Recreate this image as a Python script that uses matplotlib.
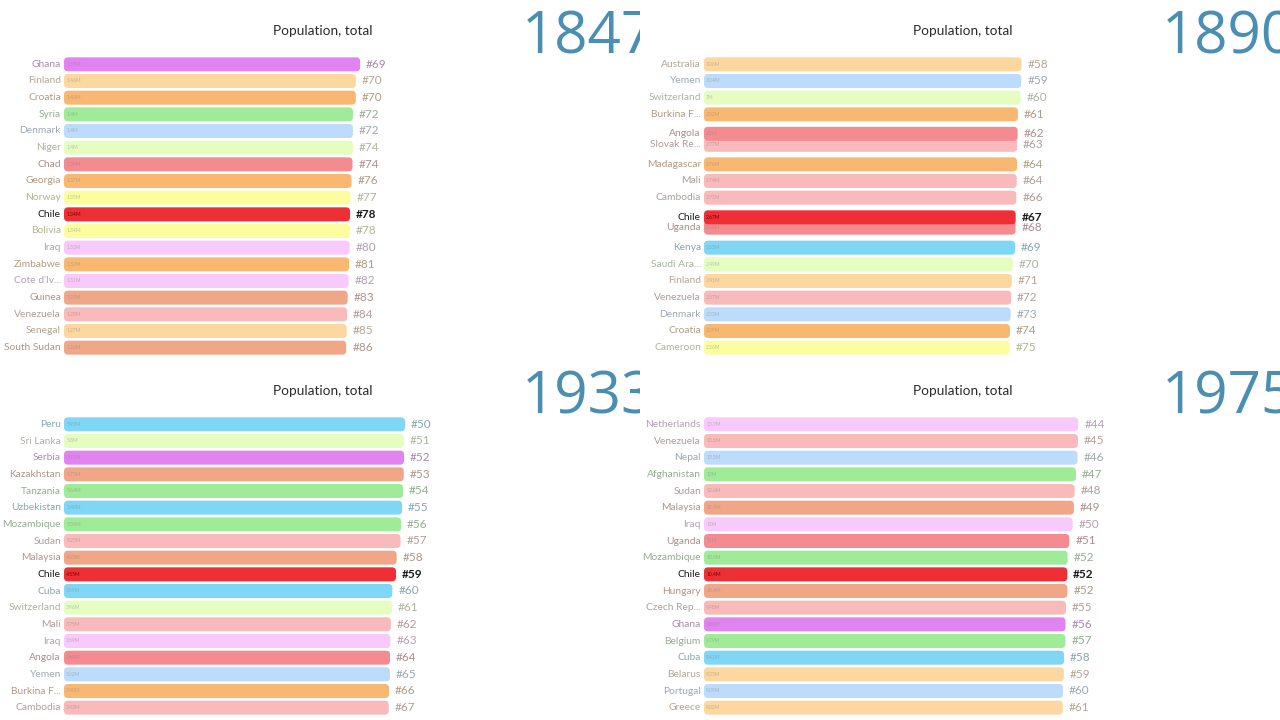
import matplotlib
matplotlib.use("Agg")
import matplotlib.pyplot as plt
import numpy as np
from matplotlib.colors import to_rgb
from matplotlib.patches import FancyBboxPatch

plt.rcParams["font.family"] = ["Lato", "DejaVu Sans"]

TITLE = "Population, total"
YEARS = [1847, 1890, 1933, 1975]
HIGHLIGHT = "Chile"

COUNTRIES_1847 = ["Ghana", "Finland", "Croatia", "Syria", "Denmark", "Niger", "Chad", "Georgia",
                  "Norway", "Chile", "Bolivia", "Iraq", "Zimbabwe", "Cote d'Iv...", "Guinea",
                  "Venezuela", "Senegal", "South Sudan"]
VALUES_1847 = [1.55, 1.46, 1.46, 1.40, 1.40, 1.40, 1.39, 1.37, 1.35, 1.34, 1.34, 1.33, 1.32,
               1.31, 1.29, 1.28, 1.27, 1.26]
RANKS_1847 = [69, 70, 70, 72, 72, 74, 74, 76, 77, 78, 78, 80, 81, 82, 83, 84, 85, 86]

COUNTRIES_1890 = ["Australia", "Yemen", "Switzerland", "Burkina F...", "Angola", "Slovak Re...",
                  "Madagascar", "Mali", "Cambodia", "Chile", "Uganda", "Kenya", "Saudi Ara...",
                  "Finland", "Venezuela", "Denmark", "Croatia", "Cameroon"]
VALUES_1890 = [3.06, 3.04, 3.0, 2.82, 2.80, 2.77, 2.76, 2.74, 2.71, 2.67, 2.66, 2.63, 2.49,
               2.41, 2.37, 2.33, 2.29, 2.26]
RANKS_1890 = [58, 59, 60, 61, 62, 63, 64, 64, 66, 67, 68, 69, 70, 71, 72, 73, 74, 75]
# rows caught mid-swap in the animation frame
ROWS_1890 = [0, 1, 2, 3, 4.17, 4.83, 6, 7, 8, 9.18, 9.8, 11, 12, 13, 14, 15, 16, 17]

COUNTRIES_1933 = ["Peru", "Sri Lanka", "Serbia", "Kazakhstan", "Tanzania", "Uzbekistan",
                  "Mozambique", "Sudan", "Malaysia", "Chile", "Cuba", "Switzerland", "Mali",
                  "Iraq", "Angola", "Yemen", "Burkina F...", "Cambodia"]
VALUES_1933 = [5.93, 5.80, 5.79, 5.75, 5.64, 5.49, 5.34, 5.25, 4.65, 4.55, 3.99, 3.96, 3.75,
               3.69, 3.64, 3.62, 3.48, 3.43]
RANKS_1933 = list(range(50, 68))

COUNTRIES_1975 = ["Netherlands", "Venezuela", "Nepal", "Afghanistan", "Sudan", "Malaysia", "Iraq",
                  "Uganda", "Mozambique", "Chile", "Hungary", "Czech Rep...", "Ghana", "Belgium",
                  "Cuba", "Belarus", "Portugal", "Greece"]
VALUES_1975 = [13.7, 13.6, 13.5, 13.0, 12.6, 12.4, 12.0, 11.0, 10.5, 10.4, 10.4, 9.98, 9.86,
               9.79, 9.41, 9.35, 9.09, 9.02]
RANKS_1975 = [44, 45, 46, 47, 48, 49, 50, 51, 52, 52, 52, 55, 56, 57, 58, 59, 60, 61]

VIOLET, PEACH, ORANGE, GREEN = "#e283f2", "#fdd7a0", "#f9b872", "#9feb98"
LBLUE, LIME, CORAL, YELLOW = "#bddbfa", "#e5fdc0", "#f48b91", "#fbfd9f"
RED, LILAC, SALMON, PINK, SKY = "#ee3036", "#f8c9fb", "#f1a688", "#f8baba", "#7fd6f5"

COUNTRY_COLORS = {
    "Ghana": VIOLET, "Finland": PEACH, "Croatia": ORANGE, "Syria": GREEN, "Denmark": LBLUE,
    "Niger": LIME, "Chad": CORAL, "Georgia": ORANGE, "Norway": YELLOW, "Chile": RED,
    "Bolivia": YELLOW, "Iraq": LILAC, "Zimbabwe": ORANGE, "Cote d'Iv...": LILAC,
    "Guinea": SALMON, "Venezuela": PINK, "Senegal": PEACH, "South Sudan": SALMON,
    "Australia": PEACH, "Yemen": LBLUE, "Switzerland": LIME, "Burkina F...": ORANGE,
    "Angola": CORAL, "Slovak Re...": PINK, "Madagascar": ORANGE, "Mali": PINK,
    "Cambodia": PINK, "Uganda": CORAL, "Kenya": SKY, "Saudi Ara...": LIME,
    "Cameroon": YELLOW, "Peru": SKY, "Sri Lanka": LIME, "Serbia": VIOLET,
    "Kazakhstan": SALMON, "Tanzania": GREEN, "Uzbekistan": SKY, "Mozambique": GREEN,
    "Sudan": PINK, "Malaysia": SALMON, "Cuba": SKY, "Netherlands": LILAC, "Nepal": LBLUE,
    "Afghanistan": GREEN, "Hungary": SALMON, "Czech Rep...": PINK, "Belgium": GREEN,
    "Belarus": PEACH, "Portugal": LBLUE, "Greece": PEACH,
}

# visible value window of each frame (the race chart does not start at zero)
XLIMS = [(-4.62, 4.13), (-18.11, 9.89), (-46.53, 18.09), (-99.7, 27.57)]

PANELS = [
    (COUNTRIES_1847, VALUES_1847, RANKS_1847, list(range(18))),
    (COUNTRIES_1890, VALUES_1890, RANKS_1890, ROWS_1890),
    (COUNTRIES_1933, VALUES_1933, RANKS_1933, list(range(18))),
    (COUNTRIES_1975, VALUES_1975, RANKS_1975, list(range(18))),
]

FIG_W, FIG_H = 1280, 720
AX_LEFT, AX_TOP, AX_W, AX_H = 64, 56, 420, 300


def blend(color, other, t):
    a = np.array(to_rgb(color))
    b = np.array(to_rgb(other))
    return tuple(a * t + b * (1 - t))


def draw_panel(fig, idx, year, countries, values, ranks, rows, xlim):
    col, row = idx % 2, idx // 2
    ox, oy = 640 * col, 360 * row

    bg = fig.add_axes([ox / FIG_W, 1 - (oy + 360) / FIG_H, 640 / FIG_W, 360 / FIG_H])
    bg.set_xlim(0, 640)
    bg.set_ylim(360, 0)
    bg.axis("off")
    bg.text(323, 31, TITLE, ha="center", va="center", fontsize=9.8, color="#2b2b2b")
    # the year is cut at the panel edge in the source frame too
    bg.text(522, 53, str(year), ha="left", va="baseline", fontsize=42, color="#4a8fb2",
            family=["Open Sans", "DejaVu Sans"], clip_on=True)

    ax = fig.add_axes([(ox + AX_LEFT) / FIG_W, 1 - (oy + AX_TOP + AX_H) / FIG_H,
                       AX_W / FIG_W, AX_H / FIG_H])
    ax.set_xlim(*xlim)
    ax.set_ylim(17.5, -0.5)
    ax.axis("off")

    x0 = xlim[0]
    vals = np.array(values)
    colors = [COUNTRY_COLORS[c] for c in countries]
    bars = ax.barh(rows, vals - x0, left=x0, height=0.84, color=colors)

    xscale = AX_W / (xlim[1] - xlim[0])
    yscale = AX_H / 18
    radius = 4 / xscale
    order = list(range(len(countries)))[::-1]
    for i in order:
        bar = bars[i]
        bar.set_visible(False)
        is_hl = countries[i] == HIGHLIGHT
        patch = FancyBboxPatch(bar.get_xy(), bar.get_width(), bar.get_height(),
                               boxstyle=f"round,pad=0,rounding_size={radius}",
                               mutation_aspect=xscale / yscale,
                               fc=colors[i], ec="none", zorder=5 if is_hl else 2)
        ax.add_patch(patch)

    for i in order:
        name, v, rk, y = countries[i], values[i], ranks[i], rows[i]
        is_hl = name == HIGHLIGHT
        lab_c = "#1a1a1a" if is_hl else blend(colors[i], "#8c8c8c", 0.35)
        val_c = "#7a0000" if is_hl else blend(colors[i], "#808080", 0.55)
        z = 6 if is_hl else 3
        ax.annotate(name, (x0, y), xytext=(-2.2, 0), textcoords="offset points",
                    ha="right", va="center", fontsize=7.4, color=lab_c,
                    annotation_clip=False, zorder=z)
        ax.annotate(f"{v:.3g}M", (x0, y), xytext=(1.6, 0), textcoords="offset points",
                    ha="left", va="center", fontsize=3.6, color=val_c,
                    annotation_clip=False, zorder=z)
        ax.annotate(f"#{rk}", (v, y), xytext=(4.3, 0), textcoords="offset points",
                    ha="left", va="center", fontsize=8.5, color=lab_c,
                    fontweight="bold" if is_hl else "normal",
                    annotation_clip=False, zorder=z)


def main() -> None:
    fig = plt.figure(figsize=(FIG_W / 100, FIG_H / 100), dpi=100)
    fig.patch.set_facecolor("white")
    for idx, (year, panel, xlim) in enumerate(zip(YEARS, PANELS, XLIMS)):
        draw_panel(fig, idx, year, *panel, xlim)
    fig.savefig("out.png", dpi=100)
    plt.close(fig)


if __name__ == "__main__":
    main()
